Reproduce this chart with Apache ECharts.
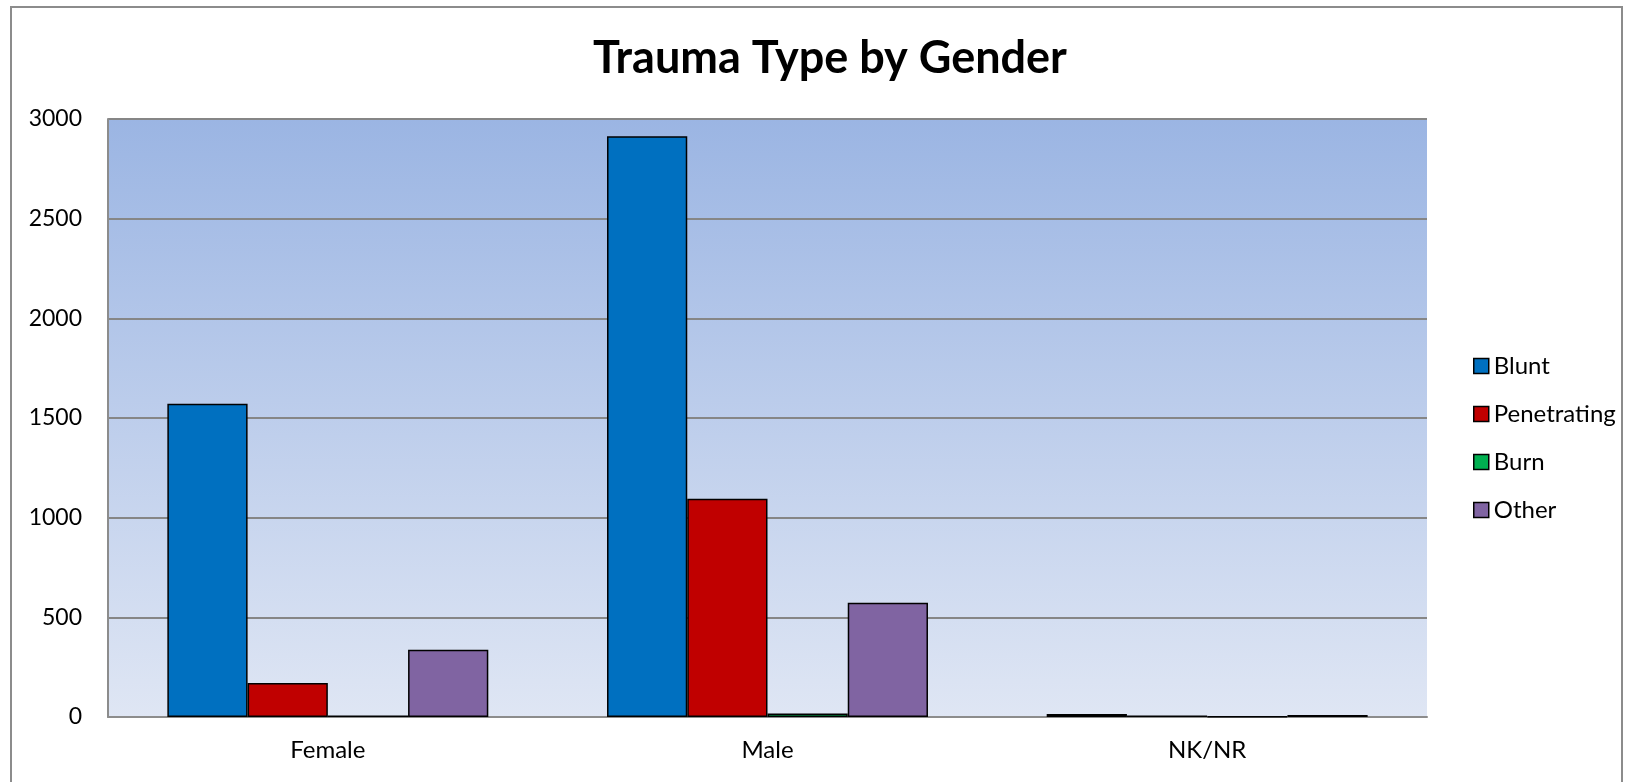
<!DOCTYPE html>
<html>
<head>
<meta charset="utf-8">
<script src="https://cdn.jsdelivr.net/npm/echarts@6/dist/echarts.min.js"></script>
<style>
  html, body { margin: 0; padding: 0; background: #fff; }
  #chart { width: 1627px; height: 782px; }
</style>
</head>
<body>
<div id="chart"></div>
<script>
  // data
  var genders = ['Female', 'Male', 'NK/NR'];
  var seriesNames = ['Blunt', 'Penetrating', 'Burn', 'Other'];
  var blunt = [1572, 2913, 15];
  var penetrating = [171, 1095, 8];
  var burn = [8, 18, 2];
  var other = [338, 573, 10];
  var yTicks = [0, 500, 1000, 1500, 2000, 2500, 3000];

  var colors = ['#0070C0', '#C00000', '#00B050', '#8064A2'];
  var values = [blunt, penetrating, burn, other];
  var font = 'Lato, "Open Sans", sans-serif';

  var chart = echarts.init(document.getElementById('chart'));

  var series = seriesNames.map(function (name, i) {
    return {
      name: name,
      type: 'bar',
      data: values[i],
      barGap: '0%',
      barCategoryGap: '27%',
      itemStyle: {
        color: colors[i],
        borderColor: '#000',
        borderWidth: 1.5
      }
    };
  });

  chart.setOption({
    animation: false,
    color: colors,
    textStyle: { fontFamily: font },
    title: {
      text: 'Trauma Type by Gender',
      left: 825,
      top: 31,
      textAlign: 'center',
      textStyle: { fontSize: 45, fontWeight: 'bold', color: '#000', fontFamily: font }
    },
    graphic: [{
      type: 'rect',
      shape: { x: 11, y: 7, width: 1611, height: 800 },
      style: { fill: 'none', stroke: '#8c8c8c', lineWidth: 2 },
      silent: true
    }],
    legend: {
      orient: 'vertical',
      left: 1468,
      top: 349,
      itemWidth: 15,
      itemHeight: 15,
      itemGap: 24,
      icon: 'rect',
      itemStyle: { borderColor: '#000', borderWidth: 1.5 },
      textStyle: { fontSize: 24, color: '#000', fontFamily: font },
      data: seriesNames
    },
    grid: {
      left: 108,
      right: 200,
      top: 119,
      bottom: 65,
      show: true,
      borderWidth: 0,
      backgroundColor: {
        type: 'linear', x: 0, y: 0, x2: 0, y2: 1,
        colorStops: [
          { offset: 0, color: '#9BB5E3' },
          { offset: 1, color: '#DFE6F4' }
        ]
      }
    },
    xAxis: {
      type: 'category',
      data: genders,
      axisTick: { show: false },
      axisLine: { lineStyle: { color: '#8c8c8c', width: 2 } },
      axisLabel: { fontSize: 24, color: '#000', margin: 21, fontFamily: font }
    },
    yAxis: {
      type: 'value',
      min: yTicks[0],
      max: yTicks[yTicks.length - 1],
      interval: 500,
      axisTick: { show: false },
      axisLine: { show: true, lineStyle: { color: '#8c8c8c', width: 2 } },
      splitLine: { lineStyle: { color: '#868686', width: 2 } },
      axisLabel: {
        fontSize: 23, color: '#000', margin: 26, fontFamily: font,
        formatter: function (v) { return String(v); }
      }
    },
    series: series
  });
</script>
</body>
</html>
